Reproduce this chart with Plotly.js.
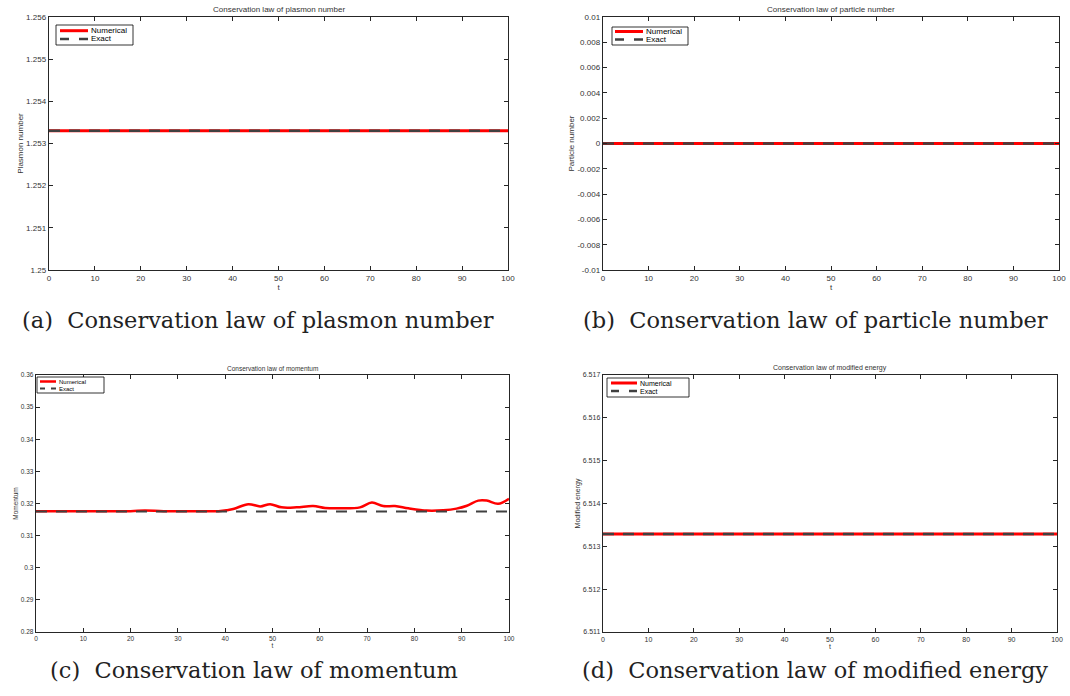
<!DOCTYPE html>
<html>
<head>
<meta charset="utf-8">
<script src="https://cdn.plot.ly/plotly-3.0.1.min.js"></script>
<style>
html,body{margin:0;padding:0;background:#fff;}
#chart{width:1070px;height:696px;}
</style>
</head>
<body>
<div id="chart"></div>
<script>
// ---- data ----
var tRange = [0, 100];
var plasmonNumerical = [1.2533, 1.2533];
var plasmonExact = [1.2533, 1.2533];
var particleNumerical = [0, 0];
var particleExact = [0, 0];
var energyNumerical = [6.51329, 6.51329];
var energyExact = [6.51329, 6.51329];
var momentumT = [0, 10, 20, 23, 27, 35, 39, 41.7, 44.9, 47.4, 49.5, 51.9, 55.1, 58.6, 61.1, 64.3, 68.5, 71.0, 73.4, 75.9, 78.7, 82.6, 86.1, 88.9, 91.1, 93.5, 95.3, 97.7, 100];
var momentumNumerical = [0.3176, 0.3176, 0.3176, 0.3178, 0.3176, 0.3176, 0.3177, 0.3183, 0.3198, 0.3191, 0.3198, 0.3188, 0.3188, 0.3192, 0.3186, 0.3185, 0.3188, 0.3203, 0.3192, 0.3192, 0.3185, 0.3178, 0.3179, 0.3184, 0.3193, 0.3209, 0.3209, 0.3199, 0.3215];
var momentumExact = [0.3175, 0.3175];

var xTicks = [0, 10, 20, 30, 40, 50, 60, 70, 80, 90, 100];
var xTickText = ["0","10","20","30","40","50","60","70","80","90","100"];
var plasmonTicks = [1.25, 1.251, 1.252, 1.253, 1.254, 1.255, 1.256];
var plasmonTickText = ["1.25","1.251","1.252","1.253","1.254","1.255","1.256"];
var particleTicks = [-0.01, -0.008, -0.006, -0.004, -0.002, 0, 0.002, 0.004, 0.006, 0.008, 0.01];
var particleTickText = ["-0.01","-0.008","-0.006","-0.004","-0.002","0","0.002","0.004","0.006","0.008","0.01"];
var momentumTicks = [0.28, 0.29, 0.3, 0.31, 0.32, 0.33, 0.34, 0.35, 0.36];
var momentumTickText = ["0.28","0.29","0.3","0.31","0.32","0.33","0.34","0.35","0.36"];
var energyTicks = [6.511, 6.512, 6.513, 6.514, 6.515, 6.516, 6.517];
var energyTickText = ["6.511","6.512","6.513","6.514","6.515","6.516","6.517"];

var panelTitles = ["Conservation law of plasmon number", "Conservation law of particle number", "Conservation law of momentum", "Conservation law of modified energy"];
var yLabels = ["Plasmon number", "Particle number", "Momentum", "Modified energy"];
var captions = ["(a)  Conservation law of plasmon number", "(b)  Conservation law of particle number", "(c)  Conservation law of momentum", "(d)  Conservation law of modified energy"];
var seriesNames = ["Numerical", "Exact"];

// ---- styles ----
var W = 1070, H = 696;
var RED = '#ff0000', GRAY = '#404040', AX = '#262626', TXT = '#333333';
function fx(px){ return px / W; }
function fy(py){ return 1 - py / H; }

var panels = [
  {x0:49, x1:508, y0:17, y1:270, fs:8, lw:3},
  {x0:603, x1:1059, y0:17, y1:270, fs:8, lw:3},
  {x0:36, x1:509, y0:375, y1:632, fs:6.5, lw:2.5},
  {x0:603, x1:1057, y0:375, y1:632, fs:7, lw:3}
];

var traces = [];
function addPair(idx, xn, yn, xe, ye){
  var sfx = idx === 0 ? '' : String(idx + 1);
  var lw = panels[idx].lw;
  traces.push({x: xn, y: yn, type: 'scatter', mode: 'lines', name: seriesNames[0],
    line: {color: RED, width: lw, shape: 'spline', smoothing: 1.0},
    xaxis: 'x' + sfx, yaxis: 'y' + sfx, showlegend: false, hoverinfo: 'skip'});
  traces.push({x: xe, y: ye, type: 'scatter', mode: 'lines', name: seriesNames[1],
    line: {color: GRAY, width: lw - 0.5, dash: '11px,9px'},
    xaxis: 'x' + sfx, yaxis: 'y' + sfx, showlegend: false, hoverinfo: 'skip'});
}
addPair(0, tRange, plasmonNumerical, tRange, plasmonExact);
addPair(1, tRange, particleNumerical, tRange, particleExact);
addPair(2, momentumT, momentumNumerical, tRange, momentumExact);
addPair(3, tRange, energyNumerical, tRange, energyExact);

var yTickSets = [
  [plasmonTicks, plasmonTickText, [1.25, 1.256]],
  [particleTicks, particleTickText, [-0.01, 0.01]],
  [momentumTicks, momentumTickText, [0.28, 0.36]],
  [energyTicks, energyTickText, [6.511, 6.517]]
];

var layout = {
  width: W, height: H,
  margin: {l: 0, r: 0, t: 0, b: 0},
  paper_bgcolor: '#fff', plot_bgcolor: '#fff',
  font: {family: 'Liberation Sans, Arial, sans-serif', color: TXT},
  annotations: [], shapes: [], showlegend: false
};

// legend boxes (pixel positions of the MATLAB-style legend)
var legendBoxes = [
  {x0: 56, y0: 25, x1: 133, y1: 45, fs: 8, s0: 60, s1: 88, r1: 30.7, r2: 39},
  {x0: 612, y0: 27, x1: 688, y1: 45, fs: 8, s0: 615, s1: 643, r1: 31.5, r2: 39.5},
  {x0: 37, y0: 377, x1: 104, y1: 393, fs: 6, s0: 40, s1: 56, r1: 381.5, r2: 388.5},
  {x0: 607, y0: 378, x1: 689, y1: 397, fs: 7, s0: 611, s1: 637, r1: 383, r2: 391}
];

var captionPos = [
  {x: 258, y: 320},
  {x: 815, y: 320},
  {x: 254, y: 670},
  {x: 815, y: 670}
];

panels.forEach(function(p, i){
  var sfx = i === 0 ? '' : String(i + 1);
  var xa = {
    domain: [fx(p.x0), fx(p.x1)], range: [0, 100], anchor: 'y' + sfx,
    tickmode: 'array', tickvals: xTicks, ticktext: xTickText,
    ticks: 'inside', ticklen: 4, tickcolor: AX, tickwidth: 1,
    showline: true, linecolor: AX, linewidth: 1.3, mirror: 'ticks',
    showgrid: false, zeroline: false,
    tickfont: {size: p.fs, color: TXT},
    title: {text: 't', font: {size: p.fs, color: TXT}, standoff: 2}
  };
  var ya = {
    domain: [fy(p.y1), fy(p.y0)], range: yTickSets[i][2], anchor: 'x' + sfx,
    tickmode: 'array', tickvals: yTickSets[i][0], ticktext: yTickSets[i][1],
    ticks: 'inside', ticklen: 4, tickcolor: AX, tickwidth: 1,
    showline: true, linecolor: AX, linewidth: 1.3, mirror: 'ticks',
    showgrid: false, zeroline: false,
    tickfont: {size: p.fs, color: TXT},
    title: {text: yLabels[i], font: {size: p.fs, color: TXT}, standoff: 1}
  };
  layout['xaxis' + sfx] = xa;
  layout['yaxis' + sfx] = ya;

  // legend drawn as MATLAB-like compact box
  var b = legendBoxes[i];
  var sampleLen = b.s1 - b.s0;
  layout.shapes.push({type: 'rect', xref: 'paper', yref: 'paper',
    x0: fx(b.x0), x1: fx(b.x1), y0: fy(b.y1), y1: fy(b.y0),
    line: {color: '#000', width: 0.8}, fillcolor: '#fff', layer: 'above'});
  layout.shapes.push({type: 'line', xref: 'paper', yref: 'paper',
    x0: fx(b.s0), x1: fx(b.s1), y0: fy(b.r1), y1: fy(b.r1),
    line: {color: RED, width: p.lw}, layer: 'above'});
  var d1 = Math.round(sampleLen * 0.32), g1 = sampleLen - 2 * d1;
  layout.shapes.push({type: 'line', xref: 'paper', yref: 'paper',
    x0: fx(b.s0), x1: fx(b.s1), y0: fy(b.r2), y1: fy(b.r2),
    line: {color: GRAY, width: p.lw - 0.5, dash: d1 + 'px,' + g1 + 'px'}, layer: 'above'});
  [b.r1, b.r2].forEach(function(ry, k){
    layout.annotations.push({
      text: seriesNames[k], xref: 'paper', yref: 'paper',
      x: fx(b.s1 + 1), y: fy(ry), xanchor: 'left', yanchor: 'middle',
      showarrow: false, font: {size: b.fs, color: '#000'}
    });
  });

  layout.annotations.push({
    text: panelTitles[i], xref: 'paper', yref: 'paper',
    x: fx((p.x0 + p.x1) / 2), y: fy(p.y0 - 1), xanchor: 'center', yanchor: 'bottom',
    showarrow: false, font: {size: p.fs, color: TXT}
  });
  var cp = captionPos[i];
  layout.annotations.push({
    text: captions[i], xref: 'paper', yref: 'paper',
    x: fx(cp.x), y: fy(cp.y), xanchor: 'center', yanchor: 'middle',
    showarrow: false, font: {size: 22.5, color: '#222', family: 'DejaVu Serif, serif'}
  });
});

Plotly.newPlot('chart', traces, layout, {displayModeBar: false, staticPlot: true});
</script>
</body>
</html>
